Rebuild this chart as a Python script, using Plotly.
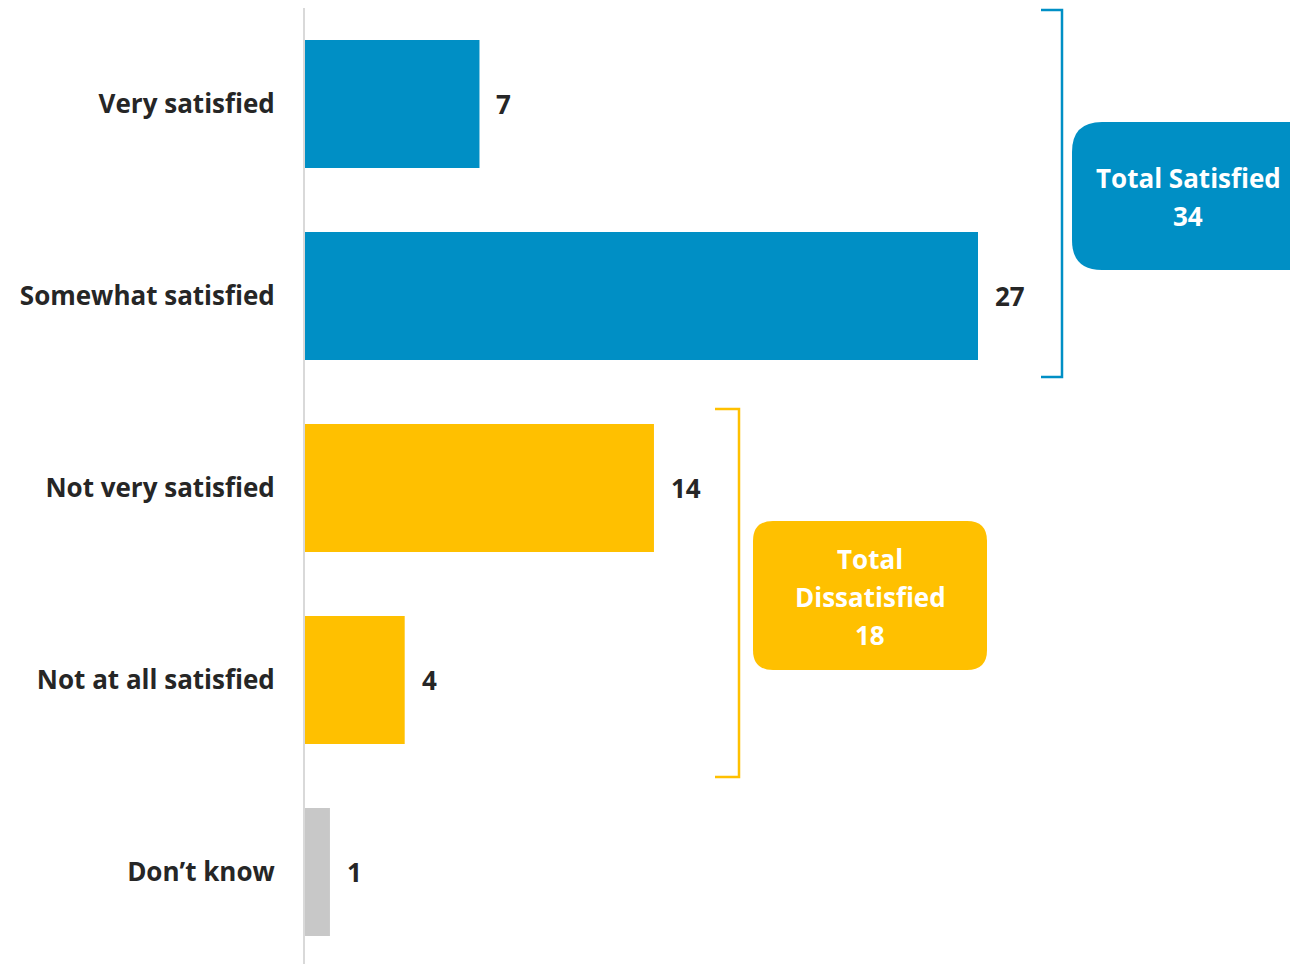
import plotly.graph_objects as go

# Survey responses (percent)
categories = ["Very satisfied", "Somewhat satisfied", "Not very satisfied",
              "Not at all satisfied", "Don’t know"]
values = [7, 27, 14, 4, 1]
groups = ["sat", "sat", "dis", "dis", "dk"]

BLUE = "#008FC5"
YELLOW = "#FFC000"
GREY = "#C8C8C8"
group_colors = {"sat": BLUE, "dis": YELLOW, "dk": GREY}

total_satisfied = sum(v for v, g in zip(values, groups) if g == "sat")
total_dissatisfied = sum(v for v, g in zip(values, groups) if g == "dis")

W, H = 1290, 964
ML, MT = 305, 8
PW, PH = W - ML, H - MT
STEP = 192  # px per category row
XMAX = PW / ((978 - ML) / 27)

FONT = "Open Sans"
FS = 26
TXT = "#262626"


def px(x):
    return (x - ML) / PW


def py(y):
    return 1 - (y - MT) / PH


fig = go.Figure(go.Bar(
    y=categories, x=values, orientation="h",
    marker=dict(color=[group_colors[g] for g in groups], line=dict(width=0)),
    width=128 / STEP, hoverinfo="skip",
))

# value labels next to bars
for c, v in zip(categories, values):
    fig.add_annotation(x=v, y=c, text=f"<b>{v}</b>", showarrow=False,
                       xanchor="left", yanchor="middle", xshift=15,
                       font=dict(family=FONT, size=FS, color=TXT))


def bracket(x, y0, y1, tick, color):
    path = (f"M {px(x - tick)} {py(y0)} L {px(x)} {py(y0)} "
            f"L {px(x)} {py(y1)} L {px(x - tick)} {py(y1)}")
    fig.add_shape(type="path", xref="paper", yref="paper", path=path,
                  line=dict(color=color, width=2.5))


def rounded_box(x0, y0, x1, y1, r, color):
    X0, X1 = px(x0), px(x1)
    Y0, Y1 = py(y0), py(y1)
    rx, ry = r / PW, r / PH
    path = (f"M {X0 + rx} {Y0} L {X1 - rx} {Y0} Q {X1} {Y0} {X1} {Y0 - ry} "
            f"L {X1} {Y1 + ry} Q {X1} {Y1} {X1 - rx} {Y1} "
            f"L {X0 + rx} {Y1} Q {X0} {Y1} {X0} {Y1 + ry} "
            f"L {X0} {Y0 - ry} Q {X0} {Y0} {X0 + rx} {Y0} Z")
    fig.add_shape(type="path", xref="paper", yref="paper", path=path,
                  fillcolor=color, line=dict(width=0), layer="above")


def box_text(lines, cx, y_first, spacing):
    for i, line in enumerate(lines):
        fig.add_annotation(xref="paper", yref="paper", x=px(cx),
                           y=py(y_first + i * spacing),
                           xanchor="center", yanchor="middle",
                           text=f"<b>{line}</b>", showarrow=False,
                           font=dict(family=FONT, size=FS, color="white"))


bracket(1062, 10, 377, 21, BLUE)
bracket(739, 409, 777, 24, YELLOW)

rounded_box(1072, 122, 1330, 270, 30, BLUE)
rounded_box(753, 521, 987, 670, 20, YELLOW)

box_text(["Total Satisfied", str(total_satisfied)], 1188, 178, 38)
box_text(["Total", "Dissatisfied", str(total_dissatisfied)], 870, 559, 38)

fig.update_layout(
    width=W, height=H,
    margin=dict(l=ML, r=0, t=MT, b=0),
    paper_bgcolor="white", plot_bgcolor="white",
    showlegend=False,
    xaxis=dict(range=[0, XMAX], visible=False, fixedrange=True),
    yaxis=dict(
        range=[PH / STEP - 0.5, -0.5],
        showline=True, linecolor="#D9D9D9", linewidth=2,
        showgrid=False, zeroline=False, ticks="",
        ticklabelstandoff=23,
        tickfont=dict(family=FONT, size=FS, color=TXT),
    ),
)
fig.update_yaxes(tickprefix="<b>", ticksuffix="</b>")

fig.write_html("out.html")
